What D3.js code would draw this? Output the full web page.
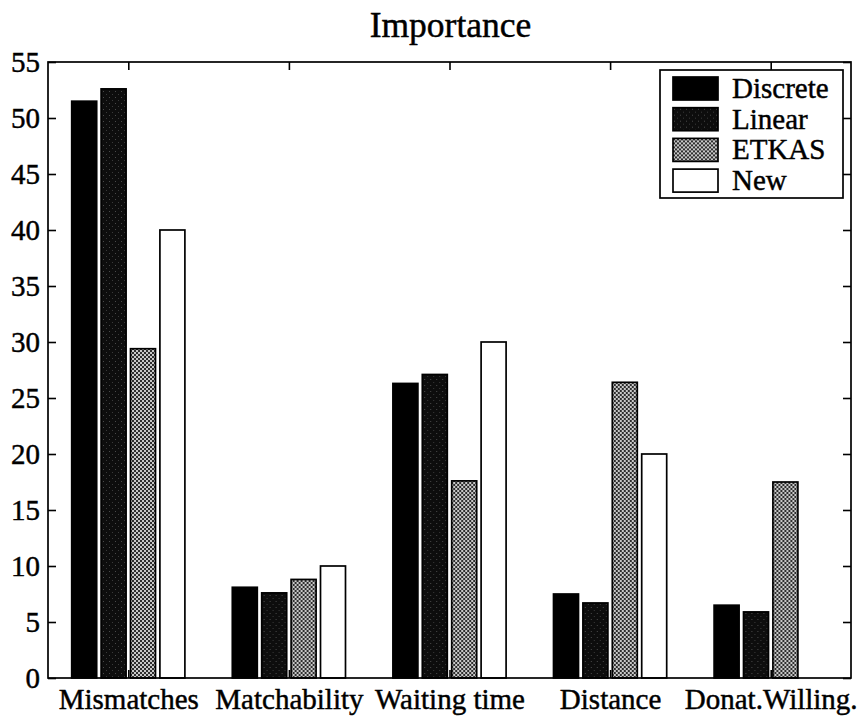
<!DOCTYPE html>
<html>
<head>
<meta charset="utf-8">
<title>Importance</title>
<script src="https://cdn.jsdelivr.net/npm/d3@7"></script>
</head>
<body style="margin:0;background:#fff">
<div id="wrap"></div>
<script>
// ---- data ----
const categories = ["Mismatches", "Matchability", "Waiting time", "Distance", "Donat.Willing."];
const seriesNames = ["Discrete", "Linear", "ETKAS", "New"];
const discrete = [51.5, 8.1, 26.3, 7.5, 6.5];
const linear   = [52.6, 7.6, 27.1, 6.7, 5.9];
const etkas    = [29.4, 8.8, 17.6, 26.4, 17.5];
const newer    = [40.0, 10.0, 30.0, 20.0, 0];
const yTicks = [0, 5, 10, 15, 20, 25, 30, 35, 40, 45, 50, 55];
const titleText = "Importance";

const seriesValues = [discrete, linear, etkas, newer];

// ---- layout ----
const FONT = "Liberation Serif";
const svg = d3.select("#wrap").append("svg")
  .attr("width", 858).attr("height", 720)
  .attr("font-family", FONT)
  .style("display", "block");
const L = 48, R = 851, T = 62, B = 678;

const defs = svg.append("defs");
const pLin = defs.append("pattern").attr("id", "pLinear").attr("patternUnits", "userSpaceOnUse")
  .attr("width", 6).attr("height", 6);
pLin.append("rect").attr("width", 6).attr("height", 6).attr("fill", "#0d0d0d");
pLin.append("rect").attr("x", 1).attr("y", 1).attr("width", 1).attr("height", 1).attr("fill", "#4a4a4a");
pLin.append("rect").attr("x", 4).attr("y", 4).attr("width", 1).attr("height", 1).attr("fill", "#3a3a3a");
const pEt = defs.append("pattern").attr("id", "pEtkas").attr("patternUnits", "userSpaceOnUse")
  .attr("width", 4).attr("height", 4);
pEt.append("rect").attr("width", 4).attr("height", 4).attr("fill", "#c8c8c8");
pEt.append("rect").attr("x", 0).attr("y", 0).attr("width", 2).attr("height", 2).attr("fill", "#2e2e2e");
pEt.append("rect").attr("x", 2).attr("y", 2).attr("width", 2).attr("height", 2).attr("fill", "#2e2e2e");

const fills = ["#000", "url(#pLinear)", "url(#pEtkas)", "#fff"];

const x0 = d3.scaleBand().domain(categories).range([L, R]).paddingInner(0).paddingOuter(0);
const groupW = 117.6;
const x1 = d3.scaleBand().domain(seriesNames)
  .range([(x0.bandwidth() - groupW) / 2, (x0.bandwidth() + groupW) / 2])
  .paddingInner(0.15).paddingOuter(0.075);
const y = d3.scaleLinear().domain([0, 55]).range([B, T]);

svg.append("rect").attr("x", L).attr("y", T).attr("width", R - L).attr("height", B - T)
  .attr("fill", "#fff");

const groups = svg.append("g").selectAll("g").data(categories).join("g")
  .attr("transform", d => `translate(${x0(d)},0)`);
groups.selectAll("rect")
  .data((c, ci) => seriesNames.map((s, si) => ({ s, si, v: seriesValues[si][ci] })).filter(d => d.v > 0))
  .join("rect")
  .attr("x", d => x1(d.s))
  .attr("y", d => y(d.v))
  .attr("width", x1.bandwidth())
  .attr("height", d => y(0) - y(d.v))
  .attr("fill", d => fills[d.si])
  .attr("stroke", "#000")
  .attr("stroke-width", 1.7);

const FS = 29;
const axL = svg.append("g").attr("transform", `translate(${L},0)`)
  .call(d3.axisLeft(y).tickValues(yTicks).tickSize(-8).tickPadding(8).tickFormat(d3.format("d")));
const axR = svg.append("g").attr("transform", `translate(${R},0)`)
  .call(d3.axisRight(y).tickValues(yTicks).tickSize(-8).tickFormat(""));
const xc = d3.scalePoint().domain(categories).range([x0(categories[0]) + x0.bandwidth() / 2, x0(categories[4]) + x0.bandwidth() / 2]);
const axB = svg.append("g").attr("transform", `translate(0,${B})`)
  .call(d3.axisBottom(xc).tickSize(-8).tickPadding(10));
const axT = svg.append("g").attr("transform", `translate(0,${T})`)
  .call(d3.axisTop(xc).tickSize(-8).tickFormat(""));

function inkText(sel) {
  sel.attr("font-family", FONT).attr("fill", "#000")
    .attr("stroke", "#000").attr("stroke-width", 0.45);
}
[axL, axR, axB, axT].forEach(a => {
  a.select(".domain").remove();
  a.attr("font-family", FONT).attr("font-size", FS);
  a.selectAll(".tick line").attr("stroke", "#000").attr("stroke-width", 1.6);
  a.selectAll("text").attr("font-size", FS).call(inkText);
});
svg.append("rect").attr("x", L).attr("y", T).attr("width", R - L).attr("height", B - T)
  .attr("fill", "none").attr("stroke", "#000").attr("stroke-width", 1.7);

svg.append("text").attr("x", (L + R) / 2 + 1).attr("y", 37).attr("text-anchor", "middle")
  .attr("font-size", 35.5).call(inkText).text(titleText);

const lg = svg.append("g").attr("transform", "translate(660,70)");
lg.append("rect").attr("width", 183).attr("height", 128).attr("fill", "#fff")
  .attr("stroke", "#000").attr("stroke-width", 1.7);
const items = lg.selectAll("g.item").data(seriesNames).join("g").attr("class", "item")
  .attr("transform", (d, i) => `translate(13,${7 + i * 30.7})`);
items.append("rect").attr("width", 45).attr("height", 23)
  .attr("fill", (d, i) => fills[i]).attr("stroke", "#000").attr("stroke-width", 1.7);
items.append("text").attr("x", 59).attr("y", 21)
  .attr("font-size", FS).call(inkText).text(d => d);
</script>
</body>
</html>
